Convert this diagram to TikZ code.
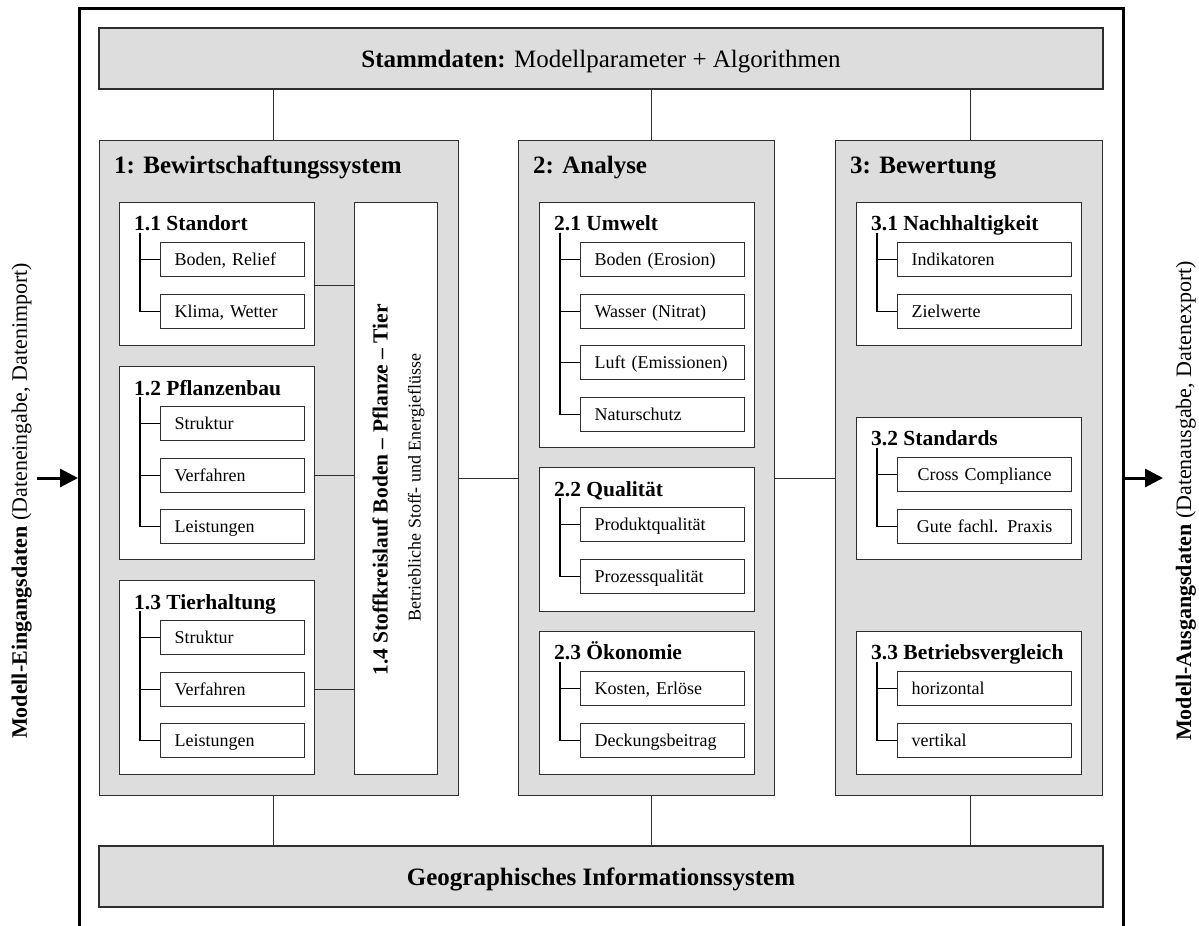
\documentclass[tikz,border=0pt]{standalone}
\usepackage{fontspec}
\setmainfont{Liberation Serif}
\usetikzlibrary{arrows.meta,calc}

\newcommand{\fBig}{\fontsize{25}{30}\selectfont}
\newcommand{\fMid}{\fontsize{21.5}{26}\selectfont}
\newcommand{\fSmall}{\fontsize{18}{22}\selectfont}
\newcommand{\fSide}{\fontsize{22}{26}\selectfont}

\begin{document}
\begin{tikzpicture}[x=1pt, y=-1pt,
  bar/.style={draw=lineBOX, line width=1.4pt, fill=greyBOX, minimum width=1004pt, minimum height=61pt, text height=17pt, text depth=0pt, inner sep=0pt, font=\fBig},
  col/.style={draw=lineBOX, line width=1.4pt, fill=greyBOX, anchor=north west, minimum height=655pt, inner sep=0pt},
  grp/.style={draw=lineBOX, line width=1.4pt, fill=white, anchor=north west, inner sep=0pt},
  leaf/.style={draw=lineBOX, line width=1.2pt, fill=white, anchor=north west, minimum height=34pt, inner xsep=14pt, inner ysep=0pt, text width=#1, text height=12pt, text depth=0pt, font=\fSmall},
  ctitle/.style={anchor=base west, inner sep=0pt, font=\fBig\bfseries},
  gtitle/.style={anchor=base west, inner sep=0pt, font=\fMid\bfseries},
  link/.style={draw=lineBOX, line width=1.2pt},
  tree/.style={draw=black, line width=1.2pt},
  flow/.style={line width=3pt, -{Triangle[length=18pt,width=18pt]}},
  side/.style={rotate=90, anchor=base, inner sep=0pt, font=\fSide}]

\definecolor{greyBOX}{HTML}{DDDDDD}
\definecolor{lineBOX}{HTML}{2E2E2E}

\useasboundingbox (0,0) rectangle (1199,926);

\node[draw, line width=3pt, anchor=north west, minimum width=1044pt, minimum height=1000pt, inner sep=0pt] (frame) at (78,7) {};

\node[bar] (stamm) at (601,58.5) {\textbf{Stammdaten:} Modellparameter + Algorithmen};
\node[bar, font=\fBig\bfseries] (gis) at (601,876.5) {Geographisches Informationssystem};

\node[col, minimum width=359pt] (col1) at (99,140) {};
\node[col, minimum width=256pt] (col2) at (518,140) {};
\node[col, minimum width=267pt] (col3) at (835,140) {};
\node[ctitle] (ct1) at (114,173) {1: Bewirtschaftungssystem};
\node[ctitle] (ct2) at (533,173) {2: Analyse};
\node[ctitle] (ct3) at (850,173) {3: Bewertung};

\node[grp, minimum width=195pt, minimum height=143pt] (g11) at (119,202) {};
\node[gtitle] (t11) at (134,230.5) {1.1 Standort};
\foreach \t [count=\i] in {{Boden, Relief},{Klima, Wetter}}
  \node[leaf=116pt] (i11\i) at (160,{242+(\i-1)*51.5}) {\t};
\foreach \i in {1,2}
  \draw[tree] ([xshift=6pt,yshift=-2pt]t11.base west) |- (i11\i.west);

\node[grp, minimum width=195pt, minimum height=193pt] (g12) at (119,366) {};
\node[gtitle] (t12) at (134,395) {1.2 Pflanzenbau};
\foreach \t [count=\i] in {Struktur,Verfahren,Leistungen}
  \node[leaf=116pt] (i12\i) at (160,{406+(\i-1)*51.5}) {\t};
\foreach \i in {1,2,3}
  \draw[tree] ([xshift=6pt,yshift=-2pt]t12.base west) |- (i12\i.west);

\node[grp, minimum width=195pt, minimum height=194pt] (g13) at (119,580) {};
\node[gtitle] (t13) at (134,609) {1.3 Tierhaltung};
\foreach \t [count=\i] in {Struktur,Verfahren,Leistungen}
  \node[leaf=116pt] (i13\i) at (160,{620+(\i-1)*51.5}) {\t};
\foreach \i in {1,2,3}
  \draw[tree] ([xshift=6pt,yshift=-2pt]t13.base west) |- (i13\i.west);

\node[grp, minimum width=83pt, minimum height=572pt] (stoff) at (354,202) {};
\node[side, font=\fMid\bfseries] (stoffT) at (387.5,490) {1.4 Stoffkreislauf Boden – Pflanze – Tier};
\node[side, font=\fSmall] (stoffS) at (420.5,487.5) {Betriebliche Stoff- und Energieflüsse};

\node[grp, minimum width=215pt, minimum height=245pt] (g21) at (539,202) {};
\node[gtitle] (t21) at (554,230.5) {2.1 Umwelt};
\foreach \t [count=\i] in {{Boden (Erosion)},{Wasser (Nitrat)},{Luft (Emissionen)},Naturschutz}
  \node[leaf=136pt] (i21\i) at (580,{242+(\i-1)*51.5}) {\t};
\foreach \i in {1,...,4}
  \draw[tree] ([xshift=6pt,yshift=-2pt]t21.base west) |- (i21\i.west);

\node[grp, minimum width=215pt, minimum height=144pt] (g22) at (539,467) {};
\node[gtitle] (t22) at (554,496) {2.2 Qualität};
\foreach \t [count=\i] in {Produktqualität,Prozessqualität}
  \node[leaf=136pt] (i22\i) at (580,{507+(\i-1)*51.5}) {\t};
\foreach \i in {1,2}
  \draw[tree] ([xshift=6pt,yshift=-2pt]t22.base west) |- (i22\i.west);

\node[grp, minimum width=215pt, minimum height=143pt] (g23) at (539,631) {};
\node[gtitle] (t23) at (554,659.5) {2.3 Ökonomie};
\foreach \t [count=\i] in {{Kosten, Erlöse},Deckungsbeitrag}
  \node[leaf=136pt] (i23\i) at (580,{671+(\i-1)*51.5}) {\t};
\foreach \i in {1,2}
  \draw[tree] ([xshift=6pt,yshift=-2pt]t23.base west) |- (i23\i.west);

\node[grp, minimum width=225pt, minimum height=143pt] (g31) at (856,202) {};
\node[gtitle] (t31) at (871,230.5) {3.1 Nachhaltigkeit};
\foreach \t [count=\i] in {Indikatoren,Zielwerte}
  \node[leaf=146pt] (i31\i) at (897,{242+(\i-1)*51.5}) {\t};
\foreach \i in {1,2}
  \draw[tree] ([xshift=6pt,yshift=-2pt]t31.base west) |- (i31\i.west);

\node[grp, minimum width=225pt, minimum height=142pt] (g32) at (856,417) {};
\node[gtitle] (t32) at (871,445.5) {3.2 Standards};
\foreach \t [count=\i] in {Cross Compliance,Gute fachl. Praxis}
  \node[leaf=146pt, align=center] (i32\i) at (897,{457+(\i-1)*51.5}) {\t};
\foreach \i in {1,2}
  \draw[tree] ([xshift=6pt,yshift=-2pt]t32.base west) |- (i32\i.west);

\node[grp, minimum width=225pt, minimum height=143pt] (g33) at (856,631) {};
\node[gtitle] (t33) at (871,659.5) {3.3 Betriebsvergleich};
\foreach \t [count=\i] in {horizontal,vertikal}
  \node[leaf=146pt] (i33\i) at (897,{671+(\i-1)*51.5}) {\t};
\foreach \i in {1,2}
  \draw[tree] ([xshift=6pt,yshift=-2pt]t33.base west) |- (i33\i.west);

\coordinate (c11) at ($(i111.west)!.5!(i112.west)$);
\draw[link] (g11.east |- c11) -- (stoff.west |- c11);
\draw[link] (g12.east |- i122) -- (stoff.west |- i122);
\draw[link] (g13.east |- i132) -- (stoff.west |- i132);

\draw[link] ([xshift=-5.5pt]col1.north) -- ([xshift=-5.5pt]col1.north |- stamm.south);
\draw[link] ([xshift=4.5pt]col2.north) -- ([xshift=4.5pt]col2.north |- stamm.south);
\draw[link] ([xshift=1pt]col3.north) -- ([xshift=1pt]col3.north |- stamm.south);
\draw[link] ([xshift=-5.5pt]col1.south) -- ([xshift=-5.5pt]col1.south |- gis.north);
\draw[link] ([xshift=4.5pt]col2.south) -- ([xshift=4.5pt]col2.south |- gis.north);
\draw[link] ([xshift=1pt]col3.south) -- ([xshift=1pt]col3.south |- gis.north);

\draw[link] ([yshift=-10.5pt]col1.east) -- ([yshift=-10.5pt]col2.west);
\draw[link] ([yshift=-10.5pt]col2.east) -- ([yshift=-10.5pt]col3.west);

\coordinate (inL) at (37,478);
\coordinate (outR) at (1163,478);
\draw[flow] (inL) -- (inL -| frame.west);
\draw[flow] (outR -| frame.east) -- (outR);

\node[side] (inTxt) at (27,501) {\textbf{Modell-Eingangsdaten} (Dateneingabe, Datenimport)};
\node[side] (outTxt) at (1191,501) {\textbf{Modell-Ausgangsdaten} (Datenausgabe, Datenexport)};
\end{tikzpicture}
\end{document}
